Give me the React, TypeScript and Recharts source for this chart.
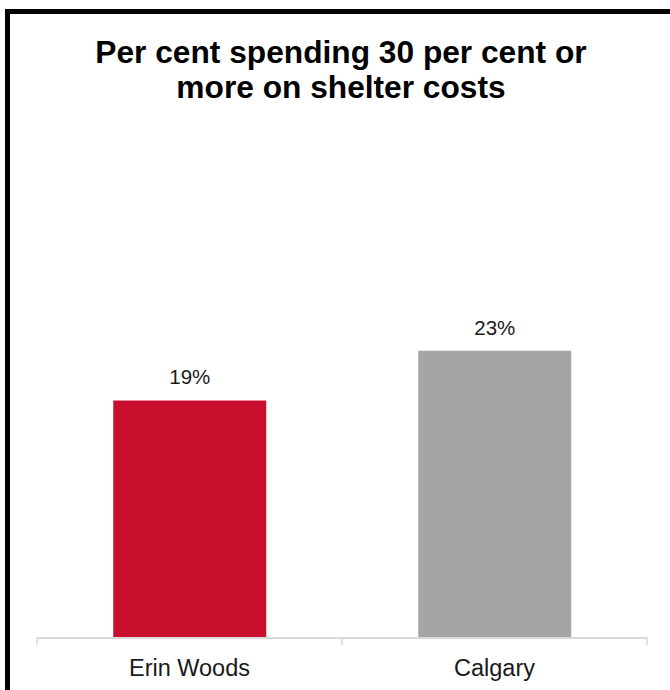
import React from "react";
import { BarChart, Bar, XAxis, YAxis, Cell, LabelList } from "recharts";

const categories = ["Erin Woods", "Calgary"];
const shares = [0.19, 0.23];
const barColors = ["#C8102E", "#A5A5A5"];
const titleLines = ["Per cent spending 30 per cent or", "more on shelter costs"];
const boundaryTicks = [0, 1, 2];

const data = categories.map((name, i) => ({ name, value: shares[i], idx: i + 0.5 }));

const FONT = "'Liberation Sans', Arial, Helvetica, sans-serif";

const EmptyTick = () => <g />;

export default function App() {
  return (
    <div
      style={{
        position: "fixed",
        left: 0,
        top: 0,
        width: 670,
        height: 690,
        overflow: "hidden",
        background: "#fff",
        fontFamily: FONT,
      }}
    >
      <div
        style={{
          position: "absolute",
          left: 5,
          top: 9,
          width: 720,
          height: 720,
          border: "5px solid #000",
          boxSizing: "border-box",
        }}
      />
      <div
        style={{
          position: "absolute",
          left: 41,
          top: 35,
          width: 600,
          textAlign: "center",
          fontWeight: "bold",
          fontSize: 31.7,
          lineHeight: "35px",
          color: "#000",
        }}
      >
        {titleLines.map((t) => (
          <div key={t}>{t}</div>
        ))}
      </div>
      <div style={{ position: "absolute", left: 0, top: 0 }}>
        <BarChart
          width={670}
          height={690}
          data={data}
          margin={{ top: 139, right: 23, left: 37, bottom: 13 }}
          barCategoryGap="25%"
        >
          <XAxis
            xAxisId="a"
            dataKey="idx"
            type="number"
            domain={[0, 2]}
            ticks={boundaryTicks}
            allowDataOverflow
            interval={0}
            height={1}
            tick={EmptyTick}
            axisLine={false}
            tickSize={8}
            tickLine={{ stroke: "#d9d9d9", strokeWidth: 1.5 }}
          />
          <XAxis
            xAxisId="z"
            dataKey="name"
            height={39}
            tickLine={false}
            tickSize={0}
            tickMargin={21}
            axisLine={{ stroke: "#d9d9d9", strokeWidth: 2 }}
            tick={{ fill: "#1a1a1a", fontSize: 23.5, fontFamily: FONT }}
          />
          <YAxis hide domain={[0, 0.4]} />
          <Bar xAxisId="z" dataKey="value" isAnimationActive={false}>
            {data.map((d, i) => (
              <Cell key={d.name} fill={barColors[i]} />
            ))}
            <LabelList
              dataKey="value"
              position="top"
              offset={16}
              formatter={(v: number) => `${Math.round(v * 100)}%`}
              style={{ fill: "#1a1a1a", fontSize: 20.5, fontFamily: FONT }}
            />
          </Bar>
        </BarChart>
      </div>
    </div>
  );
}
